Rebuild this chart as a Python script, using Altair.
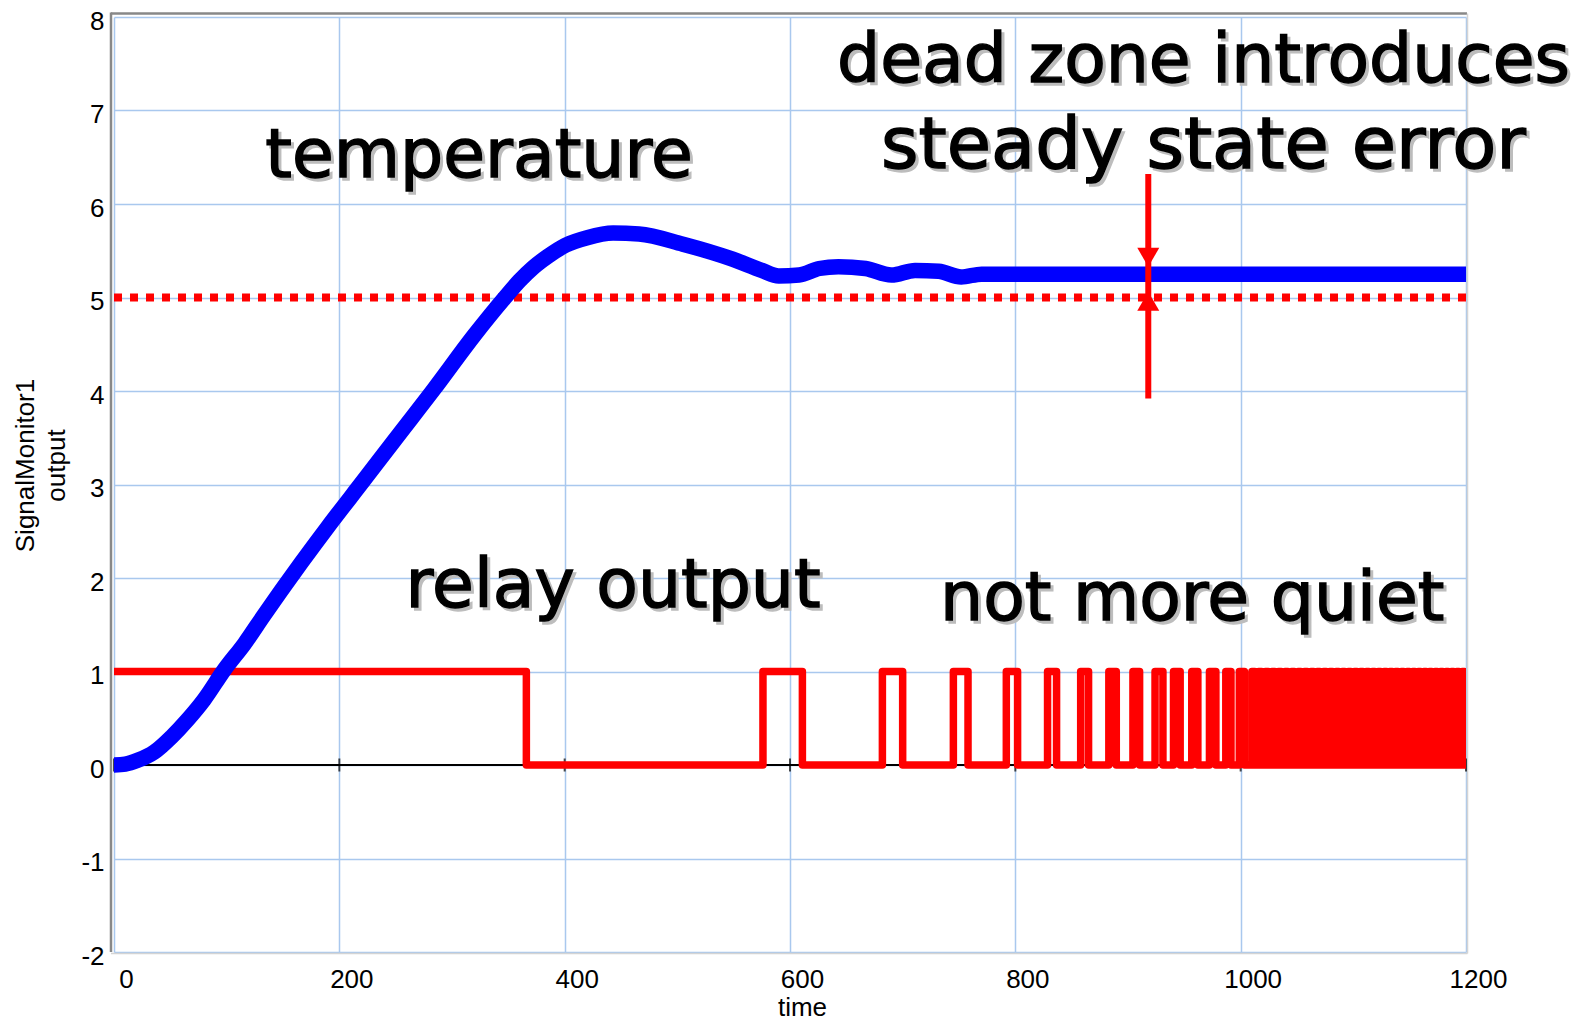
import altair as alt
import pandas as pd

# ---------------- data ----------------
temp_time = [0, 10, 21, 36, 51, 65, 80, 98, 116, 133, 151, 166, 190, 222, 250, 284, 320,
             347, 360, 372, 385, 401, 420, 443, 466, 505, 549, 575, 590, 608, 626, 643,
             667, 690, 711, 732, 752, 770, 800, 900, 1000, 1100, 1200]
temp_val = [0.0, 0.01, 0.05, 0.14, 0.30, 0.48, 0.70, 1.02, 1.30, 1.60, 1.91, 2.16, 2.55,
            3.05, 3.49, 4.02, 4.60, 5.00, 5.18, 5.32, 5.44, 5.56, 5.64, 5.69, 5.68, 5.57,
            5.41, 5.29, 5.23, 5.24, 5.31, 5.33, 5.31, 5.24, 5.29, 5.28, 5.22, 5.25, 5.25,
            5.25, 5.25, 5.25, 5.25]

relay_first_off = 366
relay_on = [576, 682, 745, 792, 828.6, 858, 883, 904.4, 924, 940.4, 956.6, 972.3, 986.8,
            998.8, 1010, 1016, 1022, 1027.8, 1033.6, 1039.4, 1045.2, 1051, 1056.7, 1062.4,
            1068, 1073.6, 1079.2, 1084.7, 1090.2, 1095.6, 1101, 1106.3, 1111.6, 1116.9,
            1122.1, 1127.3, 1132.4, 1137.5, 1142.6, 1147.7, 1152.7, 1157.7, 1162.7, 1167.6,
            1172.5, 1177.4, 1182.3, 1187.1, 1191.9, 1196.7]
relay_off = [611, 700, 758, 802, 836.6, 865, 889.6, 910.3, 931, 946.3, 962, 978, 991.4,
             1003.3, 1012.5, 1018.5, 1024.5, 1030.3, 1036, 1041.8, 1047.6, 1053.4, 1059,
             1064.7, 1070.3, 1075.9, 1081.5, 1087, 1092.4, 1097.8, 1103.2, 1108.5, 1113.8,
             1119, 1124.2, 1129.4, 1134.5, 1139.6, 1144.6, 1149.7, 1154.7, 1159.7, 1164.6,
             1169.5, 1174.4, 1179.3, 1184.1, 1188.9, 1193.7, 1198.5]

setpoint = 5
x_ticks = [0, 200, 400, 600, 800, 1000, 1200]
y_ticks = [-2, -1, 0, 1, 2, 3, 4, 5, 6, 7, 8]

arrow_time = 918
arrow_low, arrow_high = 3.92, 6.32
arrow_heads_val = [5.43, 4.96]
arrow_heads_shape = ["triangle-down", "triangle-up"]

notes_text = ["temperature", "dead zone introduces", "steady state error",
              "relay output", "not more quiet"]
notes_time = [324, 967, 967, 443, 957]
notes_val = [6.29, 7.31, 6.38, 1.69, 1.55]
notes_size = [68, 68, 72, 68, 68]

# ---------------- tables ----------------
temp_df = pd.DataFrame({"time": temp_time, "value": temp_val})
r_t = [0, relay_first_off]
r_v = [1, 0]
for on, off in zip(relay_on, relay_off):
    r_t += [on, off]
    r_v += [1, 0]
r_t.append(1200)
r_v.append(0)
relay_df = pd.DataFrame({"time": r_t, "value": r_v, "order": list(range(len(r_t)))})

W, H = 1352, 935
GRID = "#a9c8ee"
FONT = "Liberation Sans"

xs = alt.Scale(domain=[0, 1200], nice=False, zero=False)
ys = alt.Scale(domain=[-2, 8], nice=False, zero=False)

x_axis = alt.Axis(values=x_ticks, labelExpr="'' + datum.value", grid=True,
                  gridColor=GRID, gridWidth=1.5, ticks=False, domain=False,
                  labelFont=FONT, labelFontSize=26, labelColor="black", labelPadding=14,
                  labelOffset=12, labelFlush=False, title="time", titleFont=FONT,
                  titleFontSize=26, titleFontWeight="normal", titleColor="black",
                  titleX=688, titleY=63, titleBaseline="alphabetic")
y_axis = alt.Axis(values=y_ticks, labelExpr="'' + datum.value", grid=True,
                  gridColor=GRID, gridWidth=1.5, ticks=False, domain=False,
                  labelFont=FONT, labelFontSize=26, labelColor="black", labelPadding=10,
                  labelOffset=4, labelFlush=False,
                  title=["SignalMonitor1", "output"], titleFont=FONT, titleFontSize=26,
                  titleFontWeight="normal", titleColor="black", titleX=-81, titleY=448,
                  titleBaseline="alphabetic", titleAlign="center", titleAngle=270,
                  titleLineHeight=31)

one = pd.DataFrame({"a": [0]})

grid_layer = alt.Chart(temp_df).mark_point(opacity=0).encode(
    x=alt.X("time:Q", scale=xs, axis=x_axis),
    y=alt.Y("value:Q", scale=ys, axis=y_axis),
)

frame_top = alt.Chart(one).mark_rule(color="#888888", strokeWidth=2.5).encode(
    x=alt.value(-3), x2=alt.value(W + 1), y=alt.value(-3.5))
frame_left = alt.Chart(one).mark_rule(color="#888888", strokeWidth=2.5).encode(
    x=alt.value(-3), y=alt.value(-4.5), y2=alt.value(H))
frame_right = alt.Chart(one).mark_rule(color="#d4d4d4", strokeWidth=1.5).encode(
    x=alt.value(W + 1.5), y=alt.value(-3.5), y2=alt.value(H + 1.5))
frame_bottom = alt.Chart(one).mark_rule(color="#d4d4d4", strokeWidth=1.5).encode(
    x=alt.value(-3), x2=alt.value(W + 1.5), y=alt.value(H + 1.5))

sp_df = pd.DataFrame({"y": [setpoint], "x": [0], "x2": [1200]})
setpoint_line = alt.Chart(sp_df).mark_rule(color="#ff0000", strokeWidth=8,
                                           strokeDash=[8, 8], strokeCap="butt").encode(
    x=alt.X("x:Q", scale=xs), x2="x2:Q", y=alt.Y("y:Q", scale=ys))

zero_df = pd.DataFrame({"y": [0], "x": [0], "x2": [1200]})
zero_line = alt.Chart(zero_df).mark_rule(color="black", strokeWidth=2).encode(
    x=alt.X("x:Q", scale=xs), x2="x2:Q", y=alt.Y("y:Q", scale=ys))
tick_df = pd.DataFrame({"x": x_ticks, "y": [0] * len(x_ticks)})
zero_ticks = alt.Chart(tick_df).mark_tick(color="black", thickness=2, size=13,
                                          orient="vertical").encode(
    x=alt.X("x:Q", scale=xs), y=alt.Y("y:Q", scale=ys))

relay_line = alt.Chart(relay_df).mark_line(color="#ff0000", strokeWidth=7.5,
                                           interpolate="step-after", strokeJoin="round",
                                           strokeCap="round", clip=True).encode(
    x=alt.X("time:Q", scale=xs), y=alt.Y("value:Q", scale=ys), order="order:Q")

temp_line = alt.Chart(temp_df).mark_line(color="#0000ff", strokeWidth=15.5,
                                         interpolate="monotone", strokeCap="round",
                                         strokeJoin="round", clip=True).encode(
    x=alt.X("time:Q", scale=xs), y=alt.Y("value:Q", scale=ys))

arrow_df = pd.DataFrame({"x": [arrow_time], "y": [arrow_low], "y2": [arrow_high]})
arrow_line = alt.Chart(arrow_df).mark_rule(color="#ff0000", strokeWidth=6).encode(
    x=alt.X("x:Q", scale=xs), y=alt.Y("y:Q", scale=ys), y2="y2:Q")
heads_df = pd.DataFrame({"x": [arrow_time] * 2, "y": arrow_heads_val,
                         "shape": arrow_heads_shape})
arrow_heads = alt.Chart(heads_df).mark_point(filled=True, color="#ff0000", size=484,
                                             opacity=1, strokeWidth=0).encode(
    x=alt.X("x:Q", scale=xs), y=alt.Y("y:Q", scale=ys),
    shape=alt.Shape("shape:N", scale=None, legend=None))

notes_df = pd.DataFrame({"text": notes_text, "time": notes_time, "value": notes_val,
                         "size": notes_size})
shadow = alt.Chart(notes_df).mark_text(font="DejaVu Sans", align="center",
                                       baseline="alphabetic", color="#bdbdbd",
                                       stroke="#bdbdbd", strokeWidth=1.4, dx=3, dy=3).encode(
    x=alt.X("time:Q", scale=xs), y=alt.Y("value:Q", scale=ys), text="text:N",
    size=alt.Size("size:Q", scale=None, legend=None))
notes = alt.Chart(notes_df).mark_text(font="DejaVu Sans", align="center",
                                      baseline="alphabetic", color="black",
                                      stroke="black", strokeWidth=1.4).encode(
    x=alt.X("time:Q", scale=xs), y=alt.Y("value:Q", scale=ys), text="text:N",
    size=alt.Size("size:Q", scale=None, legend=None))

chart = alt.layer(
    grid_layer, frame_top, frame_left, frame_right, frame_bottom,
    zero_line, zero_ticks, setpoint_line, relay_line, temp_line,
    arrow_line, arrow_heads, shadow, notes,
).properties(
    width=W, height=H,
    autosize=alt.AutoSizeParams(type="none"),
    padding={"left": 106, "top": 9, "right": 110, "bottom": 66},
    background="white",
).configure_view(stroke=None)

chart.save("out.html", embed_options={"renderer": "svg", "actions": False})
